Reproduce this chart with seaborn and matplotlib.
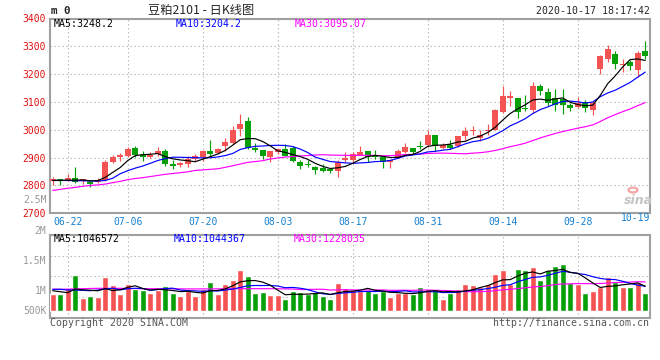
import numpy as np
import pandas as pd
import matplotlib
matplotlib.use('Agg')
import matplotlib.pyplot as plt
import seaborn as sns

# Daily candles 06-18 .. 10-19 (price in yuan, volume in thousands).
open_ = [2817, 2823, 2817, 2826, 2817, 2813, 2813, 2819, 2886, 2901,
         2907, 2933, 2908, 2901, 2913, 2924, 2877, 2872, 2876, 2895,
         2901, 2923, 2916, 2942, 2953, 3003, 3031, 2936, 2928, 2903,
         2921, 2930, 2933, 2886, 2877, 2868, 2863, 2858, 2853, 2891,
         2892, 2910, 2925, 2909, 2901, 2883, 2899, 2922, 2936, 2941,
         2944, 2980, 2936, 2944, 2942, 2977, 2995, 2971, 2995, 3001,
         3064, 3113, 3115, 3080, 3070, 3157, 3137, 3115, 3110, 3089,
         3083, 3100, 3070, 3220, 3256, 3274, 3232, 3244, 3214, 3284]
high = [2830, 2823, 2841, 2866, 2825, 2815, 2826, 2892, 2908, 2915,
        2938, 2943, 2924, 2919, 2938, 2930, 2891, 2886, 2905, 2913,
        2928, 2962, 2935, 2969, 3012, 3056, 3047, 2951, 2928, 2923,
        2930, 2948, 2942, 2890, 2893, 2870, 2878, 2861, 2891, 2921,
        2919, 2942, 2925, 2928, 2901, 2892, 2931, 2953, 2936, 2960,
        2998, 2983, 2954, 2962, 2979, 3011, 3015, 2998, 3021, 3073,
        3156, 3138, 3115, 3126, 3173, 3165, 3151, 3145, 3145, 3098,
        3118, 3106, 3104, 3268, 3306, 3284, 3256, 3252, 3284, 3318]
low = [2801, 2801, 2815, 2810, 2806, 2793, 2808, 2817, 2879, 2889,
       2904, 2901, 2889, 2897, 2907, 2871, 2858, 2866, 2867, 2887,
       2888, 2907, 2913, 2924, 2948, 2979, 2930, 2921, 2895, 2884,
       2913, 2905, 2885, 2860, 2866, 2840, 2848, 2846, 2831, 2885,
       2885, 2910, 2885, 2895, 2862, 2862, 2897, 2915, 2912, 2930,
       2939, 2924, 2930, 2930, 2939, 2962, 2983, 2960, 2980, 2999,
       3061, 3084, 3043, 3067, 3062, 3124, 3086, 3068, 3056, 3068,
       3080, 3065, 3054, 3202, 3244, 3219, 3208, 3214, 3189, 3256]
close = [2823, 2816, 2826, 2812, 2823, 2806, 2820, 2883, 2903, 2910,
         2931, 2909, 2901, 2909, 2924, 2876, 2869, 2881, 2895, 2905,
         2923, 2913, 2930, 2958, 3000, 3021, 2934, 2928, 2907, 2923,
         2930, 2907, 2889, 2870, 2875, 2857, 2852, 2851, 2883, 2899,
         2913, 2921, 2904, 2903, 2883, 2892, 2923, 2939, 2920, 2938,
         2983, 2942, 2944, 2935, 2977, 2994, 3001, 2980, 3000, 3070,
         3123, 3120, 3063, 3073, 3157, 3139, 3098, 3089, 3089, 3080,
         3098, 3077, 3098, 3264, 3292, 3238, 3237, 3231, 3276, 3264]
volume = [728, 728, 990, 1556, 554, 641, 597, 1469, 1120, 728,
          1177, 933, 889, 772, 889, 1077, 772, 654, 846, 654,
          933, 1251, 728, 1177, 1338, 1775, 1513, 772, 828, 685,
          685, 510, 872, 828, 728, 815, 641, 510, 1221, 990,
          902, 859, 902, 785, 859, 610, 785, 759, 715, 1046,
          946, 902, 510, 785, 946, 1177, 1120, 1033, 1177, 1613,
          1775, 1177, 1818, 1775, 1905, 1338, 1775, 1962, 2036, 1221,
          1177, 772, 859, 1033, 1469, 1264, 1033, 1033, 1251, 772]

# moving-average values before the window fills (the chart has older history)
ma5_head = [2818, 2818, 2819, 2819]
ma10_head = [2818, 2818, 2818, 2817, 2817, 2816, 2816, 2818, 2826]
ma30_head = [2782, 2786, 2790, 2793, 2797, 2800, 2802, 2805, 2810, 2815,
             2821, 2825, 2828, 2832, 2836, 2840, 2843, 2846, 2849, 2854,
             2856, 2858, 2860, 2865, 2871, 2877, 2883, 2886, 2889]
vma5_head = [872, 828, 785, 946]
vma10_head = [933, 933, 902, 902, 887, 872, 902, 946, 977]
vma30_head = [935, 935, 940, 950, 960, 970, 975, 975, 975, 975,
              970, 965, 960, 960, 958, 955, 955, 952, 950, 950,
              950, 950, 952, 955, 958, 960, 960, 960, 960]

tick_idx = [2, 10, 20, 30, 40, 50, 60, 70]
tick_labels = ['06-22', '07-06', '07-20', '08-03', '08-17', '08-31', '09-14', '09-28']
last_label = '10-19'
price_ticks = [2700, 2800, 2900, 3000, 3100, 3200, 3300, 3400]
vol_labels = ['2.5M', '2M', '1.5M', '1M', '500K']

legend_price = ['MA5:3248.2', 'MA10:3204.2', 'MA30:3095.07']
legend_vol = ['MA5:1046572', 'MA10:1044367', 'MA30:1228035']

RED = '#f45353'
GREEN = '#08a008'
GRID = '#b4b4b4'
SPINE = '#a0a0a0'

sns.set_style('white')
plt.rcParams['font.family'] = ['DejaVu Sans Mono', 'Noto Sans CJK SC']

W, H = 660, 360
fig = plt.figure(figsize=(6.6, 3.6), dpi=100)


def put(x, y, s, **kw):
    # place text by pixel position on the 660x360 canvas
    kw.setdefault('va', 'center')
    fig.text(x / W, 1 - y / H, s, **kw)


ax = fig.add_axes([50 / W, 1 - 213.3 / H, 600 / W, (213.3 - 18.5) / H])
axv = fig.add_axes([50 / W, 1 - 317.7 / H, 600 / W, (317.7 - 235) / H])

n = len(close)
x = np.arange(n)
o = np.array(open_, float)
c = np.array(close, float)
up = c >= o
cols = np.where(up, RED, GREEN)


def moving(values, win, head):
    m = pd.Series(values, dtype=float).rolling(win).mean().to_numpy()
    m[:win - 1] = head
    return m


# ---- price panel ----
ax.vlines(x, low, high, colors=cols, linewidth=0.85, zorder=3)
body_lo = np.minimum(o, c)
body_h = np.maximum(np.abs(c - o), 3.5)
ax.bar(x, body_h, bottom=body_lo, width=0.78, color=cols, linewidth=0, zorder=3)

for vals, win, head, col in [(close, 30, ma30_head, '#ff00ff'),
                             (close, 10, ma10_head, '#0000ff'),
                             (close, 5, ma5_head, 'black')]:
    sns.lineplot(x=x, y=moving(vals, win, head), color=col, linewidth=0.85,
                 ax=ax, zorder=4)

ax.set_xlim(-0.36, n - 0.36)
ax.set_ylim(2700, 3400)
ax.set_yticks(price_ticks)
ax.set_yticklabels([str(t) for t in price_ticks])
ax.set_xticks(tick_idx)
ax.set_xticklabels(tick_labels)
ax.tick_params(axis='y', colors='#e01010', labelsize=7, length=0, pad=3)
ax.tick_params(axis='x', colors='#1580d0', labelsize=7, length=0, pad=2.5)
ax.grid(True, color=GRID, linewidth=0.8, linestyle=(0, (1.2, 2.4)))
ax.set_xlabel('')
ax.set_ylabel('')
ax.text(1.0, -0.0, last_label, transform=ax.transAxes, ha='right', va='top',
        color='#1580d0', fontsize=7)

# ---- volume panel ----
df_vol = pd.DataFrame({'x': x, 'vol': np.array(volume) * 1000.0,
                       'dir': np.where(up, 'up', 'down')})
sns.barplot(data=df_vol, x='x', y='vol', hue='dir',
            palette={'up': RED, 'down': GREEN}, native_scale=True,
            width=0.8, dodge=False, saturation=1, errorbar=None,
            legend=False, ax=axv, zorder=3)
for vals, win, head, col in [(volume, 30, vma30_head, '#ff00ff'),
                             (volume, 10, vma10_head, '#0000ff'),
                             (volume, 5, vma5_head, 'black')]:
    sns.lineplot(x=x, y=moving(vals, win, head) * 1000.0, color=col,
                 linewidth=0.85, ax=axv, zorder=4)

vlo, vhi = -305e3, 3.30e6
axv.set_xlim(-0.36, n - 0.36)
axv.set_ylim(vlo, vhi)
axv.set_yticks(np.linspace(vlo, vhi, 5))
axv.set_yticklabels([])
axv.set_xticks(tick_idx)
axv.set_xticklabels([])
axv.tick_params(length=0)
axv.grid(True, color=GRID, linewidth=0.8, linestyle=(0, (1.2, 2.4)))
axv.set_xlabel('')
axv.set_ylabel('')

for a in (ax, axv):
    for s in a.spines.values():
        s.set_color(SPINE)
        s.set_linewidth(1.5)
        s.set_visible(True)

# ---- texts ----
mono = 'DejaVu Sans Mono'
put(51, 11.5, 'm 0', fontsize=7.8, fontweight='bold', family=mono)
put(201, 10.5, '豆粕2101 - 日K线图', fontsize=8.8, ha='center',
    family=['Noto Sans CJK SC', 'DejaVu Sans'])
put(649.5, 11.2, '2020-10-17 18:17:42', fontsize=7.1, ha='right', family=mono)

for (xp, txt, col) in zip([54, 176, 295], legend_price, ['black', '#0000ff', '#ff00ff']):
    put(xp, 24, txt, fontsize=7.1, color=col, family=mono)
for (xp, txt, col) in zip([54, 174, 294], legend_vol, ['black', '#0000ff', '#ff00ff']):
    put(xp, 238.5, txt, fontsize=7.1, color=col, family=mono)

for yp, txt in zip([200, 231, 260.7, 290.7, 310.7], vol_labels):
    put(46.5, yp, txt, fontsize=7, color='#999999', ha='right', family=mono)

put(50, 323.5, 'Copyright 2020 SINA.COM', fontsize=7.1, color='#555555', family=mono)
put(649.5, 323.5, 'http://finance.sina.com.cn', fontsize=7.1, color='#555555',
    ha='right', family=mono)

# faint sina watermark
fig.patches.append(matplotlib.patches.Circle((633 / W, 1 - 190 / H), 4.5 / W,
                   transform=fig.transFigure, fill=False, edgecolor='#f4a6a6',
                   linewidth=1.6, zorder=5))
put(638.5, 200, 'sina', fontsize=9, fontstyle='italic', fontweight='bold',
    color='#c4c4c4', ha='center', family='DejaVu Sans')

fig.savefig('out.png', dpi=100)
